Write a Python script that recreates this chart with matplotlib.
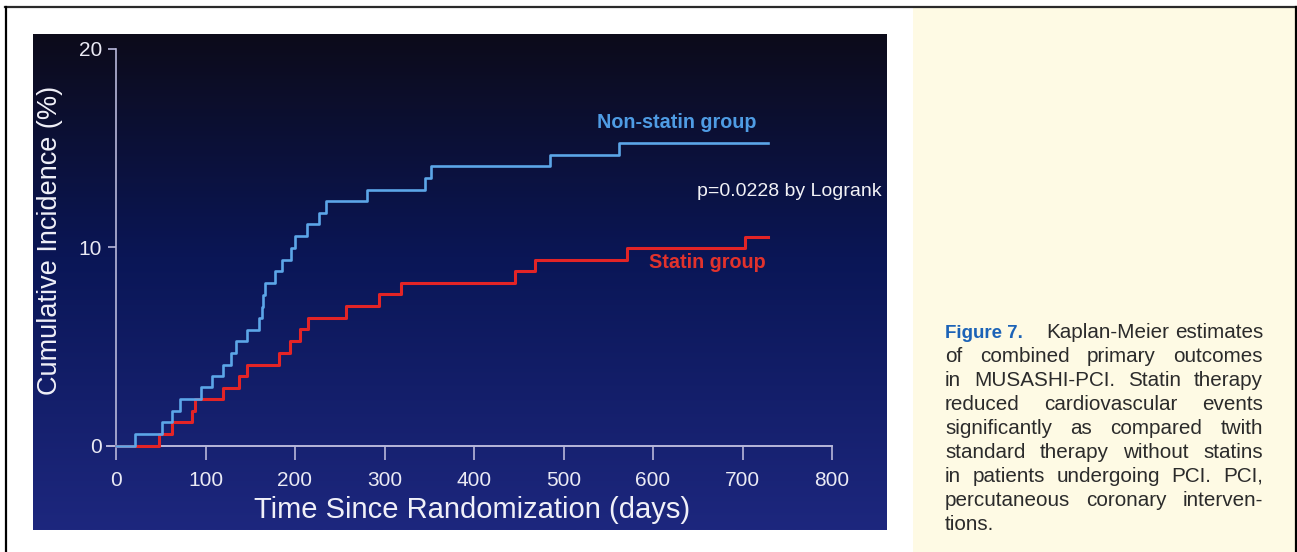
import numpy as np
import matplotlib
matplotlib.use("Agg")
import matplotlib.pyplot as plt
from matplotlib.patches import Rectangle
from matplotlib.lines import Line2D

W, H = 1297, 552

# Kaplan-Meier steps (days, cumulative incidence %)
nonstatin_days = [0, 21, 51, 63, 72, 95, 107, 119, 128, 134, 146, 160, 163, 164.5, 166.5,
                  178, 185, 196, 200, 213, 227, 235, 280, 345, 352, 485, 562, 728]
nonstatin_pct = [0, 0.6, 1.17, 1.76, 2.35, 2.94, 3.52, 4.08, 4.66, 5.27, 5.85, 6.42, 7.0, 7.6, 8.2,
                 8.78, 9.36, 9.97, 10.56, 11.15, 11.74, 12.32, 12.9, 13.48, 14.07, 14.65, 15.24, 15.24]

statin_days = [0, 48, 63, 84.5, 88, 120, 137, 146, 182, 194, 206, 215, 257, 294, 318,
               446, 468, 571, 703, 728]
statin_pct = [0, 0.6, 1.18, 1.76, 2.35, 2.93, 3.51, 4.08, 4.69, 5.28, 5.86, 6.44, 7.04, 7.62, 8.2,
              8.78, 9.37, 9.95, 10.53, 10.53]

x_ticks = [0, 100, 200, 300, 400, 500, 600, 700, 800]
y_ticks = [0, 10, 20]

caption_lines = [
    "of combined primary outcomes",
    "in MUSASHI-PCI. Statin therapy",
    "reduced cardiovascular events",
    "significantly as compared twith",
    "standard therapy without statins",
    "in patients undergoing PCI. PCI,",
    "percutaneous coronary interven-",
    "tions.",
]

plt.rcParams['font.family'] = ['Liberation Sans', 'DejaVu Sans']


def fx(px):
    return px / W


def fy(py):
    return 1 - py / H


fig = plt.figure(figsize=(W / 100, H / 100), dpi=100)
fig.patch.set_facecolor("white")

# caption panel
fig.add_artist(Rectangle((fx(913), fy(552)), fx(1295) - fx(913), fy(8) - fy(552),
                         transform=fig.transFigure, facecolor="#fefae4", edgecolor="none", zorder=0))
# outer frame lines
fig.add_artist(Line2D([fx(5), fx(1297)], [fy(7), fy(7)], transform=fig.transFigure, color="#2a2a2a", lw=1.6))
fig.add_artist(Line2D([fx(5.5), fx(5.5)], [fy(7), fy(552)], transform=fig.transFigure, color="black", lw=1.6))
fig.add_artist(Line2D([fx(1295.5), fx(1295.5)], [fy(7), fy(552)], transform=fig.transFigure, color="black", lw=1.6))

# gradient background of the slide (dark at top, blue at bottom)
bg = fig.add_axes([fx(33), fy(530), fx(887) - fx(33), fy(34) - fy(530)], zorder=0)
t = np.linspace(0, 1, 256)
stops = [0, 0.45, 1]
cols = np.array([[13, 11, 26], [10, 22, 86], [29, 39, 126]]) / 255
grad = np.stack([np.interp(t, stops, cols[:, k]) for k in range(3)], axis=-1)[:, None, :]
bg.imshow(grad, aspect="auto", extent=(0, 1, 0, 1))
bg.axis("off")

# main axes: x 0 at px 116 (0.895 px/day), y 0 at px 445.7 (19.85 px/%)
x0_px, y0_px = 116, 445.7
ax = fig.add_axes([fx(x0_px - 10 * 0.895), fy(y0_px), fx(810 * 0.895), 20 * 19.85 / H], zorder=2)
ax.patch.set_alpha(0)
ax.set_xlim(-10, 800)
ax.set_ylim(0, 20)

ax.step(statin_days, statin_pct, where="post", color="#e32426", lw=2.2, zorder=3, clip_on=False)
ax.step(nonstatin_days, nonstatin_pct, where="post", color="#5ca6e8", lw=1.9, zorder=4, clip_on=False)

axis_col = "#b8b8da"
for s in ["top", "right"]:
    ax.spines[s].set_visible(False)
ax.spines["left"].set_position(("data", 0))
ax.spines["left"].set_color(axis_col)
ax.spines["bottom"].set_color(axis_col)
ax.spines["left"].set_linewidth(1.2)
ax.spines["bottom"].set_linewidth(1.4)
ax.spines["left"].set_zorder(1)
ax.spines["bottom"].set_zorder(1)

ax.set_xticks(x_ticks)
ax.set_yticks(y_ticks)
ax.tick_params(axis="x", direction="out", length=10, width=1.2, color=axis_col,
               labelsize=15, labelcolor="#eaeaf4", pad=8)
ax.tick_params(axis="y", direction="out", length=6, width=1.2, color=axis_col,
               labelsize=15, labelcolor="#eaeaf4", pad=4)

fig.text(fx(472), fy(510), "Time Since Randomization (days)", fontsize=21, color="#f0f0f8",
         ha="center", va="center")
fig.text(fx(50), fy(240), "Cumulative Incidence (%)", fontsize=19.5, color="#f0f0f8",
         ha="center", va="center", rotation=90)

fig.text(fx(597), fy(128), "Non-statin group", fontsize=14.2, fontweight="bold", color="#4f9ce4",
         ha="left", va="baseline")
fig.text(fx(697), fy(196), "p=0.0228 by Logrank", fontsize=14, color="#f2f2f6",
         ha="left", va="baseline")
fig.text(fx(649), fy(268), "Statin group", fontsize=14.2, fontweight="bold", color="#e2322c",
         ha="left", va="baseline")

# caption, justified by hand
renderer = fig.canvas.get_renderer()
cap_size = 14.9
cap_col = "#2b2b2b"
left, right = 945, 1263


def place_justified(words, y, xa, xb, justify=True):
    objs = [fig.text(0, fy(y), w, fontsize=cap_size, color=cap_col, va="baseline") for w in words]
    widths = [o.get_window_extent(renderer).width for o in objs]
    if justify and len(words) > 1:
        gap = (xb - xa - sum(widths)) / (len(words) - 1)
    else:
        gap = 6
    x = xa
    for o, w in zip(objs, widths):
        o.set_x(fx(x))
        x += w + gap


fig.text(fx(left), fy(338), "Figure 7.", fontsize=13.5, fontweight="bold", color="#1c63b7",
         family=["Liberation Sans Narrow", "Liberation Sans"], va="baseline")
place_justified(["Kaplan-Meier", "estimates"], 338, 1046, right)
for i, line in enumerate(caption_lines):
    last = i == len(caption_lines) - 1
    place_justified(line.split(), 362 + 24 * i, left, right, justify=not last)

fig.savefig("out.png", dpi=100)
